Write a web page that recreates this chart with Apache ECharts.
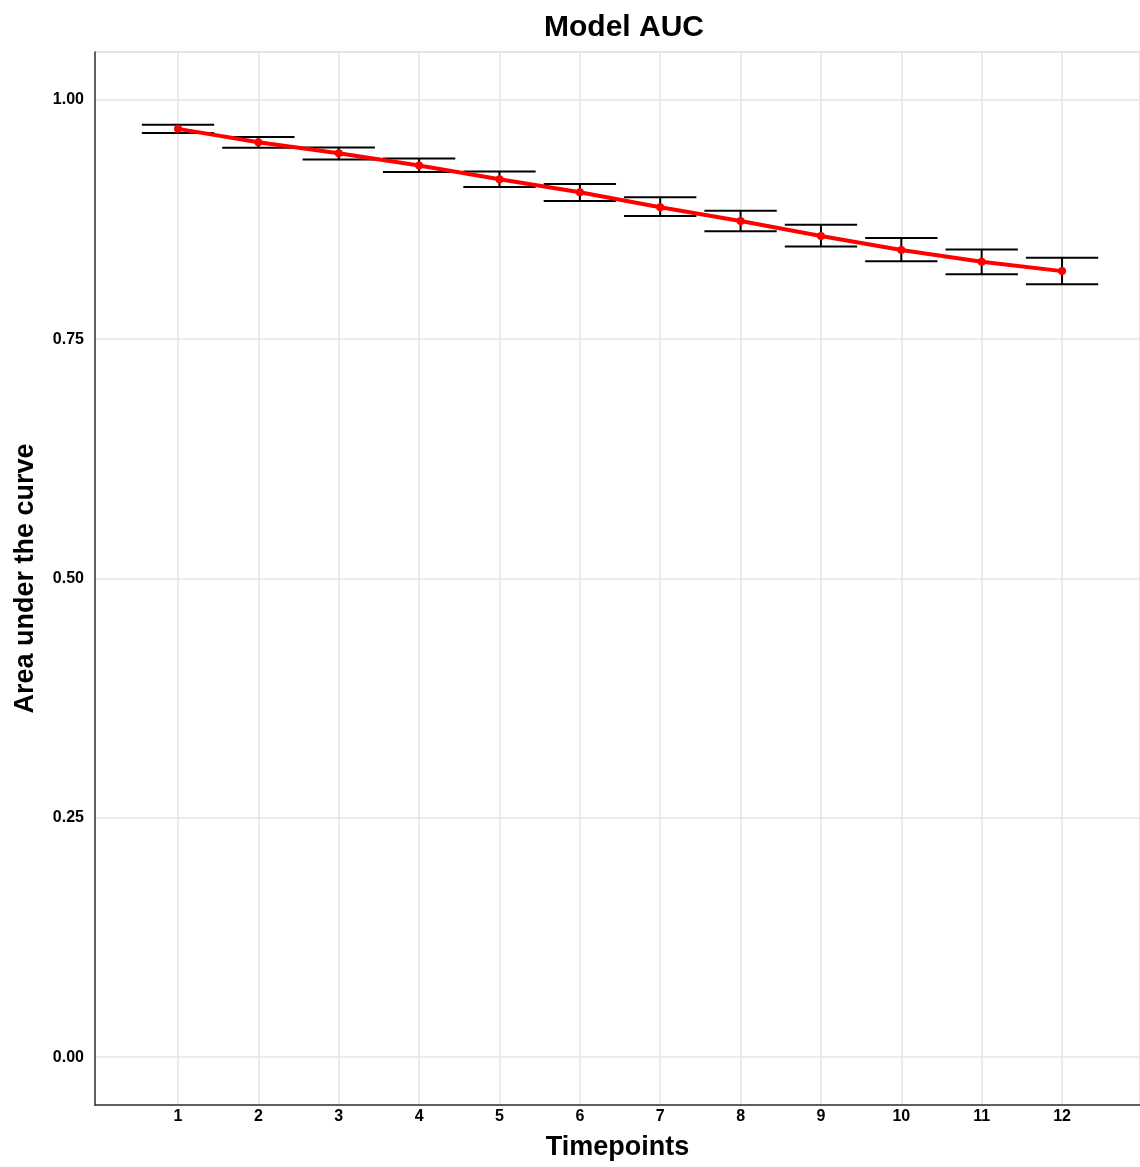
<!DOCTYPE html>
<html>
<head>
<meta charset="utf-8">
<script src="https://cdn.jsdelivr.net/npm/echarts@6/dist/echarts.min.js"></script>
<style>
  html, body { margin: 0; padding: 0; background: #fff; }
  #main { width: 1140px; height: 1167px; }
</style>
</head>
<body>
<div id="main"></div>
<script>
// timepoints and AUC estimates with confidence limits
const timepoints = [1, 2, 3, 4, 5, 6, 7, 8, 9, 10, 11, 12];
const auc   = [0.9697, 0.9558, 0.9443, 0.9314, 0.9170, 0.9035, 0.8878, 0.8734, 0.8577, 0.8431, 0.8309, 0.8211];
const upper = [0.9739, 0.9613, 0.9502, 0.9387, 0.9251, 0.9121, 0.8982, 0.8842, 0.8696, 0.8556, 0.8438, 0.8350];
const lower = [0.9655, 0.9501, 0.9377, 0.9247, 0.9091, 0.8944, 0.8787, 0.8627, 0.8467, 0.8313, 0.8177, 0.8075];
const yTicks = [0, 0.25, 0.5, 0.75, 1];
const capHalf = 0.45;

const font = '"Liberation Sans", Arial, sans-serif';

let chart = echarts.init(document.getElementById('main'));
let option = {
  backgroundColor: '#fff',
  title: {
    text: 'Model AUC',
    left: 619,
    textAlign: 'center',
    top: 8,
    textStyle: { fontFamily: font, fontSize: 30, fontWeight: 'bold', color: '#000' }
  },
  grid: {
    left: 95, top: 52, right: 0, bottom: 62,
    outerBoundsMode: 'none',
    containLabel: false,
    show: true, borderColor: '#cccccc', borderWidth: 1
  },
  xAxis: {
    type: 'value',
    min: -0.033,
    max: 12.97,
    name: 'Timepoints',
    nameLocation: 'middle',
    nameGap: 29,
    nameTextStyle: { fontFamily: font, fontSize: 27, fontWeight: 'bold', color: '#000' },
    axisLine: { show: true, onZero: false, lineStyle: { color: '#333', width: 1.5 } },
    axisTick: { show: false, customValues: timepoints },
    axisLabel: {
      customValues: timepoints,
      fontFamily: font, fontSize: 16, fontWeight: 'bold', color: '#000', margin: 4
    },
    splitLine: { show: true, lineStyle: { color: '#e6e6e6', width: 1.5 } }
  },
  yAxis: {
    type: 'value',
    min: -0.05,
    max: 1.05,
    name: 'Area under the curve',
    nameLocation: 'middle',
    nameGap: 56,
    nameTextStyle: { fontFamily: font, fontSize: 27, fontWeight: 'bold', color: '#000' },
    axisLine: { show: true, onZero: false, lineStyle: { color: '#333', width: 1.5 } },
    axisTick: { show: false, customValues: yTicks },
    axisLabel: {
      customValues: yTicks,
      formatter: v => v.toFixed(2),
      fontFamily: font, fontSize: 16, fontWeight: 'bold', color: '#000', margin: 11
    },
    splitLine: { show: true, lineStyle: { color: '#e6e6e6', width: 1.5 } }
  },
  series: [
    {
      type: 'custom',
      name: 'ci',
      z: 3,
      data: timepoints.map((t, i) => [t, lower[i], upper[i]]),
      renderItem: function (params, api) {
        let x = api.value(0);
        let lo = api.coord([x, api.value(1)]);
        let hi = api.coord([x, api.value(2)]);
        let l1 = api.coord([x - capHalf, api.value(1)]);
        let r1 = api.coord([x + capHalf, api.value(1)]);
        let l2 = api.coord([x - capHalf, api.value(2)]);
        let r2 = api.coord([x + capHalf, api.value(2)]);
        let style = { stroke: '#000', lineWidth: 2 };
        return {
          type: 'group',
          children: [
            { type: 'line', shape: { x1: lo[0], y1: lo[1], x2: hi[0], y2: hi[1] }, style: style },
            { type: 'line', shape: { x1: l1[0], y1: l1[1], x2: r1[0], y2: r1[1] }, style: style },
            { type: 'line', shape: { x1: l2[0], y1: l2[1], x2: r2[0], y2: r2[1] }, style: style }
          ]
        };
      }
    },
    {
      type: 'line',
      name: 'AUC',
      z: 4,
      data: timepoints.map((t, i) => [t, auc[i]]),
      symbol: 'circle',
      symbolSize: 8,
      itemStyle: { color: '#ff0000' },
      lineStyle: { color: '#ff0000', width: 4 }
    }
  ]
};
option && chart.setOption(option);
</script>
</body>
</html>
